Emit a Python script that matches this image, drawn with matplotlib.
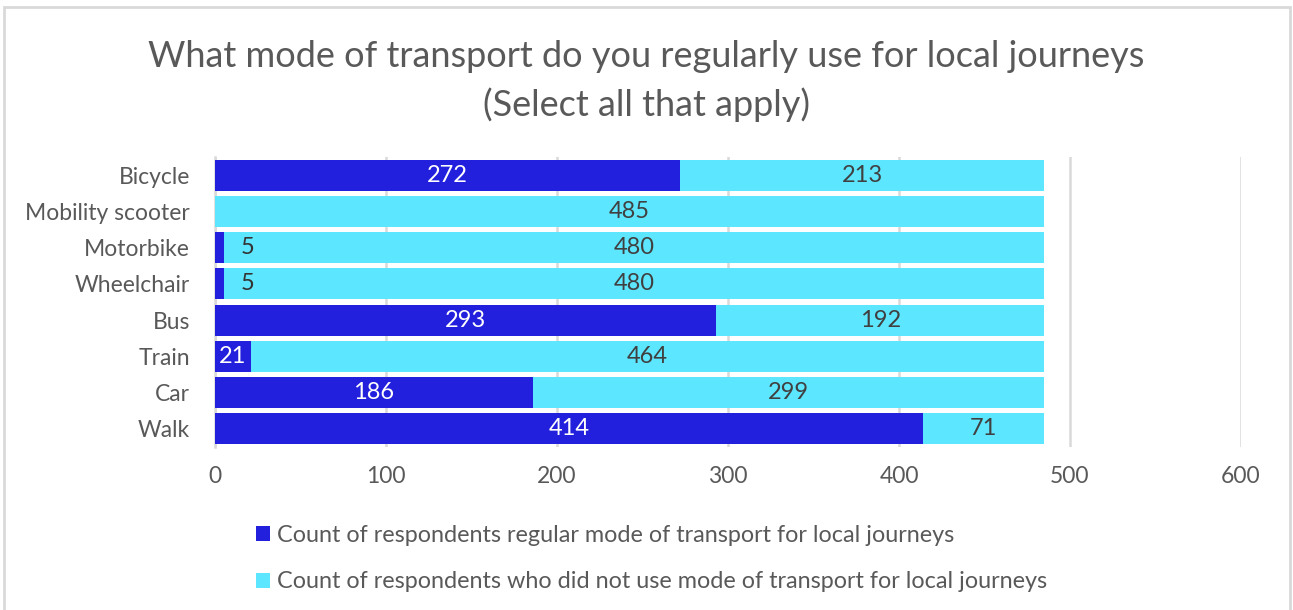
import numpy as np
import matplotlib.pyplot as plt
from matplotlib.patches import Rectangle

categories = ['Bicycle', 'Mobility scooter', 'Motorbike', 'Wheelchair', 'Bus', 'Train', 'Car', 'Walk']
used = [272, 0, 5, 5, 293, 21, 186, 414]
not_used = [213, 485, 480, 480, 192, 464, 299, 71]
xticks = [0, 100, 200, 300, 400, 500, 600]

dark = '#2320DD'
cyan = '#5CE6FF'
grey_text = '#595959'

plt.rcParams['font.family'] = ['Lato', 'DejaVu Sans']

fig = plt.figure(figsize=(12.93, 6.10), dpi=100)
ax = fig.add_axes([0.1663, 0.2672, 0.7935, 0.4754])

y = np.arange(len(categories))
ax.barh(y, used, height=0.85, color=dark, zorder=3,
        label='Count of respondents regular mode of transport for local journeys')
ax.barh(y, not_used, left=used, height=0.85, color=cyan, zorder=3,
        label='Count of respondents who did not use mode of transport for local journeys')

for i in range(len(categories)):
    u, n = used[i], not_used[i]
    if u >= 10:
        ax.text(u / 2, y[i], str(u), ha='center', va='center', color='white', fontsize=17, zorder=4)
    elif u > 0:
        ax.annotate(str(u), (u, y[i]), xytext=(12, 0), textcoords='offset points',
                    ha='left', va='center', color='#333333', fontsize=17, zorder=4)
    ax.text(u + n / 2, y[i], str(n), ha='center', va='center', color='#404040', fontsize=17, zorder=4)

ax.set_ylim(len(categories) - 0.5, -0.5)
ax.set_xlim(0, 600)
ax.set_xticks(xticks)
ax.set_yticks(y)
ax.set_yticklabels(categories)
ax.tick_params(axis='both', length=0, labelsize=16.5, colors=grey_text)
ax.tick_params(axis='x', pad=14)
ax.tick_params(axis='y', pad=18)
ax.grid(axis='x', color='#D9D9D9', linewidth=1.8, zorder=0)
for s in ['top', 'right', 'bottom']:
    ax.spines[s].set_visible(False)
ax.spines['left'].set_color('#D9D9D9')
ax.spines['left'].set_linewidth(1.8)

fig.text(0.5, 0.907, 'What mode of transport do you regularly use for local journeys',
         ha='center', va='center', fontsize=26, color=grey_text)
fig.text(0.5, 0.828, '(Select all that apply)', ha='center', va='center', fontsize=26, color=grey_text)

fig.legend(loc='upper left', bbox_to_anchor=(0.191, 0.155), frameon=False, ncol=1,
           fontsize=16.8, handlelength=0.6, handleheight=0.6, handletextpad=0.3,
           labelspacing=1.1, labelcolor=grey_text, borderaxespad=0)

fig.add_artist(Rectangle((0.003, -0.01), 0.995, 0.998, transform=fig.transFigure,
                         fill=False, edgecolor='#D9D9D9', linewidth=2))

fig.savefig('out.png', dpi=100)
